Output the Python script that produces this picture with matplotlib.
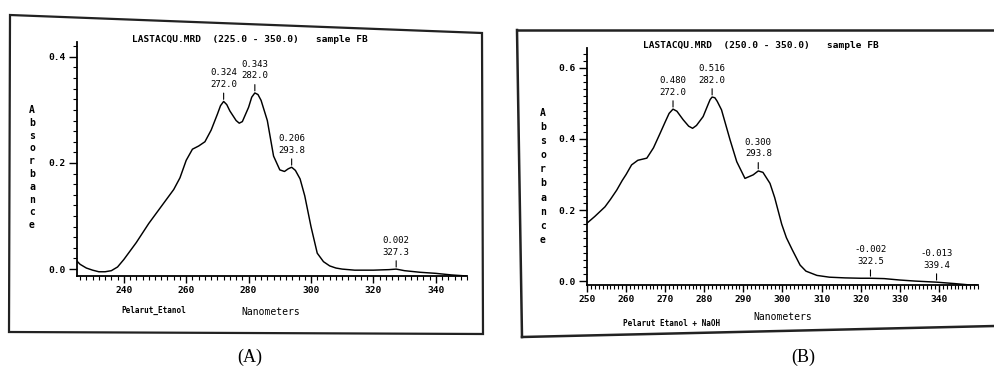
import numpy as np
import matplotlib
matplotlib.use("Agg")
import matplotlib.pyplot as plt
from matplotlib.patches import Polygon
from matplotlib.lines import Line2D
from matplotlib.ticker import MultipleLocator

# ---- spectrum A : Pelarut Etanol (225 - 350 nm)
wl_a = [225, 226, 228, 230, 232, 234, 236, 238, 240, 242,
        244, 246, 248, 250, 252, 254, 256, 258, 260, 262,
        264, 266, 268, 270, 271, 272, 273, 274, 276, 277,
        278, 280, 281, 282, 283, 284, 286, 288, 290, 291.5,
        292.7, 293.8, 295, 296.5, 298, 300, 302, 304, 306, 308,
        310, 314, 320, 325, 327.3, 330, 335, 340, 345, 350]
abs_a = [0.015, 0.009, 0.002, -0.002, -0.005, -0.005, -0.003, 0.004, 0.018, 0.034,
         0.050, 0.068, 0.086, 0.102, 0.118, 0.134, 0.150, 0.172, 0.205, 0.226,
         0.232, 0.240, 0.262, 0.292, 0.308, 0.316, 0.310, 0.298, 0.280, 0.275,
         0.278, 0.305, 0.324, 0.332, 0.329, 0.318, 0.280, 0.213, 0.187, 0.184,
         0.189, 0.192, 0.186, 0.170, 0.138, 0.080, 0.030, 0.014, 0.006, 0.002,
         0.000, -0.002, -0.002, -0.001, 0.000, -0.003, -0.006, -0.008, -0.011, -0.013]
peak_wl_a = [272.0, 282.0, 293.8, 327.3]
peak_abs_a = [0.324, 0.343, 0.206, 0.002]

# ---- spectrum B : Pelarut Etanol + NaOH (250 - 350 nm)
wl_b = [250, 252, 254.6, 256, 257.6, 259, 260, 261.4, 263, 265.3,
        267, 268.7, 270, 271, 272, 273, 274.6, 276, 277, 278,
        279.7, 281, 281.5, 282, 282.7, 283.3, 284.4, 286.6, 288.3, 290.4,
        292.5, 293.8, 295, 296.8, 298, 299.8, 301, 302.5, 304.5, 306,
        308.8, 312, 316, 320, 322.5, 326, 330, 334, 339.4, 344,
        348, 350]
abs_b = [0.163, 0.182, 0.209, 0.230, 0.256, 0.283, 0.300, 0.327, 0.340, 0.346,
         0.375, 0.416, 0.448, 0.472, 0.484, 0.478, 0.454, 0.436, 0.430, 0.438,
         0.463, 0.498, 0.511, 0.518, 0.516, 0.506, 0.482, 0.397, 0.336, 0.289,
         0.299, 0.310, 0.306, 0.275, 0.235, 0.160, 0.122, 0.088, 0.045, 0.028,
         0.016, 0.011, 0.009, 0.008, 0.008, 0.007, 0.003, 0.000, -0.003, -0.007,
         -0.011, -0.011]
peak_wl_b = [272.0, 282.0, 293.8, 322.5, 339.4]
peak_abs_b = [0.480, 0.516, 0.300, -0.002, -0.013]

W, H = 995, 376
MONO = "DejaVu Sans Mono"


def fx(x, y):
    return (x / W, 1 - y / H)


def axes_px(fig, left, top, right, bottom):
    return fig.add_axes([left / W, 1 - bottom / H, (right - left) / W, (bottom - top) / H])


def style_axis(ax, xmaj, xmin, ymaj, ymin):
    for s in ("top", "right"):
        ax.spines[s].set_visible(False)
    ax.spines["left"].set_linewidth(1.3)
    ax.spines["bottom"].set_linewidth(1.3)
    ax.xaxis.set_major_locator(MultipleLocator(xmaj))
    ax.xaxis.set_minor_locator(MultipleLocator(xmin))
    ax.yaxis.set_major_locator(MultipleLocator(ymaj))
    ax.yaxis.set_minor_locator(MultipleLocator(ymin))
    ax.tick_params(which="major", direction="out", length=5, width=1.0, pad=2)
    ax.tick_params(which="minor", direction="out", length=3, width=0.8)
    ax.tick_params(axis="y", which="major", length=6)
    ax.patch.set_alpha(0)
    for lab in ax.get_xticklabels() + ax.get_yticklabels():
        lab.set_fontfamily(MONO)
        lab.set_fontsize(6.8)
        lab.set_fontweight("bold")
    ax.yaxis.set_major_formatter(lambda v, p: f"{v:.1f}")


def label_peaks(ax, wl, ab, pwl, pab):
    for w, a in zip(pwl, pab):
        y = np.interp(w, wl, ab)
        ax.annotate(f"{a:.3f}\n{w:.1f}", xy=(w, y), xytext=(0, 9),
                    textcoords="offset points", ha="center", va="bottom",
                    fontfamily=MONO, fontsize=6.5, linespacing=1.35,
                    arrowprops=dict(arrowstyle="-", lw=0.8, color="black",
                                    shrinkA=1, shrinkB=1.5))


fig = plt.figure(figsize=(W / 100, H / 100), dpi=100)

# outer frames (scanned sheets)
fig.add_artist(Polygon([fx(10, 15), fx(482, 33), fx(483, 334), fx(9, 332)],
                       closed=True, fill=False, lw=1.6, ec="#222222",
                       transform=fig.transFigure))
for (x0, y0), (x1, y1) in [((517, 30), (995, 30)), ((517, 30), (522, 337)),
                           ((522, 337), (995, 326))]:
    p0, p1 = fx(x0, y0), fx(x1, y1)
    fig.add_artist(Line2D([p0[0], p1[0]], [p0[1], p1[1]], lw=1.8,
                          color="#222222", transform=fig.transFigure))

# ---- panel A
ax_a = axes_px(fig, 77, 42, 467, 276)
ax_a.plot(wl_a, abs_a, color="black", lw=1.05)
ax_a.set_xlim(225, 350)
ax_a.set_ylim(-0.013, 0.428)
style_axis(ax_a, 20, 2, 0.2, 0.02)
ax_a.set_xticks([240, 260, 280, 300, 320, 340])
label_peaks(ax_a, wl_a, abs_a, peak_wl_a, peak_abs_a)

fig.text(*fx(250, 40), "LASTACQU.MRD  (225.0 - 350.0)   sample FB", ha="center",
         va="center", fontfamily=MONO, fontsize=6.8, fontweight="bold")
for i, ch in enumerate("Absorbance"):
    fig.text(*fx(32, 110 + i * 12.8), ch, ha="center", va="center",
             fontfamily=MONO, fontsize=7, fontweight="bold")
fig.text(*fx(271, 312), "Nanometers", ha="center", va="center",
         fontfamily=MONO, fontsize=7)
fig.text(*fx(154, 310), "Pelarut_Etanol", ha="center", va="center",
         fontfamily=MONO, fontsize=5.5, fontweight="bold")

# ---- panel B
ax_b = axes_px(fig, 587, 48, 978, 285)
ax_b.plot(wl_b, abs_b, color="black", lw=1.05)
ax_b.set_xlim(250, 350)
ax_b.set_ylim(-0.011, 0.656)
style_axis(ax_b, 10, 1, 0.2, 0.02)
ax_b.set_xticks(np.arange(250, 341, 10))
label_peaks(ax_b, wl_b, abs_b, peak_wl_b, peak_abs_b)

fig.text(*fx(761, 45), "LASTACQU.MRD  (250.0 - 350.0)   sample FB", ha="center",
         va="center", fontfamily=MONO, fontsize=6.8, fontweight="bold")
for i, ch in enumerate("Absorbance"):
    fig.text(*fx(543, 113 + i * 14.1), ch, ha="center", va="center",
             fontfamily=MONO, fontsize=7, fontweight="bold")
fig.text(*fx(783, 317), "Nanometers", ha="center", va="center",
         fontfamily=MONO, fontsize=7)
fig.text(*fx(672, 324), "Pelarut Etanol + NaOH", ha="center", va="center",
         fontfamily=MONO, fontsize=5.5, fontweight="bold")

# captions
fig.text(*fx(250, 357), "(A)", ha="center", va="center",
         fontfamily="Liberation Serif", fontsize=13)
fig.text(*fx(803, 357), "(B)", ha="center", va="center",
         fontfamily="Liberation Serif", fontsize=13)

fig.savefig("out.png", dpi=100)
